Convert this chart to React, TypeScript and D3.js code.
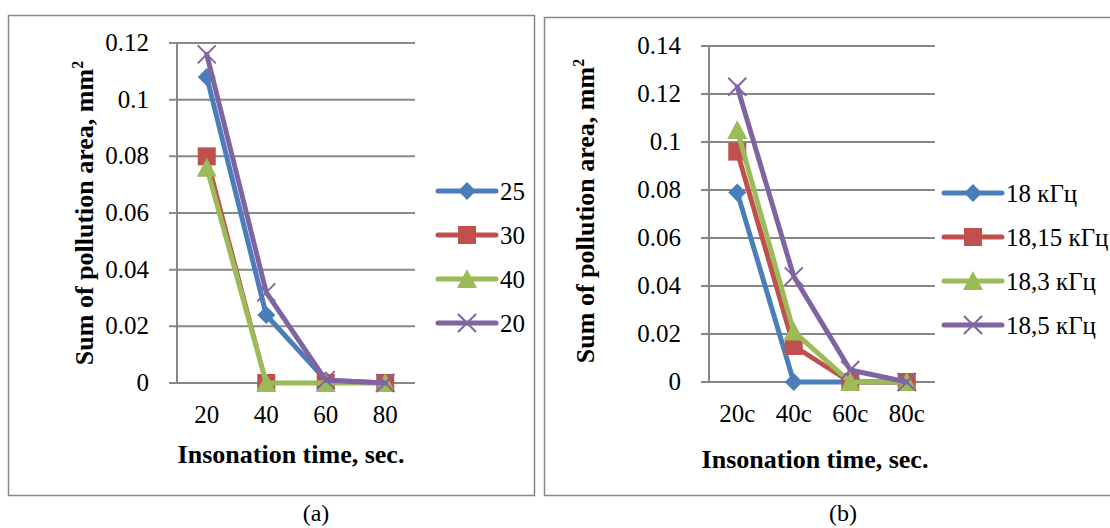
import { useEffect, useRef } from 'react';
import * as d3 from 'd3';

// Panel (a): insonation time vs pollution area, series by parameter
const categoriesA = ['20', '40', '60', '80'];
const seriesNamesA = ['25', '30', '40', '20'];
const values25 = [0.108, 0.024, 0.001, 0];
const values30 = [0.08, 0, 0, 0];
const values40 = [0.076, 0, 0, 0];
const values20 = [0.116, 0.032, 0.001, 0];
const yTicksA = [0, 0.02, 0.04, 0.06, 0.08, 0.1, 0.12];

// Panel (b): series by frequency
const categoriesB = ['20c', '40c', '60c', '80c'];
const seriesNamesB = ['18 кГц', '18,15 кГц', '18,3 кГц', '18,5 кГц'];
const values18 = [0.079, 0, 0, 0];
const values1815 = [0.096, 0.015, 0, 0];
const values183 = [0.105, 0.021, 0, 0];
const values185 = [0.123, 0.044, 0.005, 0];
const yTicksB = [0, 0.02, 0.04, 0.06, 0.08, 0.1, 0.12, 0.14];

const colors = ['#4a7ebb', '#c0504d', '#9bbb59', '#8064a2'];
const markers = ['diamond', 'square', 'triangle', 'x'];
const FONT = "'Liberation Serif', 'Times New Roman', serif";
const GRID = '#878787';

function drawMarker(g, type, x, y, color) {
  if (type === 'diamond') {
    g.append('path').attr('d', `M${x},${y - 9}L${x + 9},${y}L${x},${y + 9}L${x - 9},${y}Z`).attr('fill', color);
  } else if (type === 'square') {
    g.append('rect').attr('x', x - 9).attr('y', y - 9).attr('width', 18).attr('height', 18).attr('fill', color);
  } else if (type === 'triangle') {
    g.append('path').attr('d', `M${x},${y - 10}L${x + 10},${y + 9}L${x - 10},${y + 9}Z`).attr('fill', color);
  } else {
    g.append('path')
      .attr('d', `M${x - 9},${y - 9}L${x + 9},${y + 9}M${x - 9},${y + 9}L${x + 9},${y - 9}`)
      .attr('stroke', color).attr('stroke-width', 2).attr('fill', 'none');
  }
}

function drawPanel(svg, cfg) {
  const g = svg.append('g');

  // outer frame
  g.append('rect')
    .attr('x', cfg.frame[0]).attr('y', cfg.frame[1])
    .attr('width', cfg.frame[2]).attr('height', cfg.frame[3])
    .attr('fill', 'none').attr('stroke', GRID).attr('stroke-width', 1.5);

  const x = d3.scaleBand().domain(cfg.categories).range([cfg.left, cfg.right]);
  const y = d3.scaleLinear().domain([0, cfg.yMax]).range([cfg.bottom, cfg.top]);

  // gridlines + tick labels
  cfg.yTicks.forEach((t) => {
    g.append('line')
      .attr('x1', cfg.left - 8).attr('x2', cfg.right)
      .attr('y1', y(t)).attr('y2', y(t))
      .attr('stroke', GRID).attr('stroke-width', 2);
    g.append('text')
      .attr('x', cfg.left - 28).attr('y', y(t) + 8)
      .attr('text-anchor', 'end')
      .attr('font-family', FONT).attr('font-size', 25)
      .text(d3.format('~g')(t));
  });

  // y axis line
  g.append('line')
    .attr('x1', cfg.left).attr('x2', cfg.left)
    .attr('y1', cfg.top).attr('y2', cfg.bottom)
    .attr('stroke', GRID).attr('stroke-width', 2);

  cfg.categories.forEach((c) => {
    g.append('text')
      .attr('x', x(c) + x.bandwidth() / 2).attr('y', cfg.bottom + 40)
      .attr('text-anchor', 'middle')
      .attr('font-family', FONT).attr('font-size', 25)
      .text(c);
  });

  // axis titles
  g.append('text')
    .attr('x', cfg.xTitle[0]).attr('y', cfg.xTitle[1])
    .attr('text-anchor', 'middle')
    .attr('font-family', FONT).attr('font-size', 26).attr('font-weight', 'bold')
    .text('Insonation time, sec.');

  const yt = g.append('text')
    .attr('transform', `translate(${cfg.yTitle[0]},${cfg.yTitle[1]}) rotate(-90)`)
    .attr('text-anchor', 'middle')
    .attr('font-family', FONT).attr('font-size', 26).attr('font-weight', 'bold');
  yt.append('tspan').text('Sum of pollution area, mm');
  yt.append('tspan').attr('font-size', 16).attr('dy', -10).text('2');

  // series
  const line = d3.line()
    .x((d, i) => x(cfg.categories[i]) + x.bandwidth() / 2)
    .y((d) => y(d));

  cfg.series.forEach((vals, si) => {
    const sg = g.append('g');
    sg.append('path')
      .attr('d', line(vals))
      .attr('fill', 'none')
      .attr('stroke', colors[si])
      .attr('stroke-width', cfg.lineWidths[si])
      .attr('stroke-linejoin', 'round')
      .attr('stroke-linecap', 'round');
    vals.forEach((v, i) => {
      drawMarker(sg, markers[si], x(cfg.categories[i]) + x.bandwidth() / 2, y(v), colors[si]);
    });
  });

  // legend
  cfg.names.forEach((name, i) => {
    const ly = cfg.legendY + i * 44;
    const lg = g.append('g');
    lg.append('line')
      .attr('x1', cfg.legendX).attr('x2', cfg.legendX + 58)
      .attr('y1', ly).attr('y2', ly)
      .attr('stroke', colors[i]).attr('stroke-width', 5).attr('stroke-linecap', 'round');
    drawMarker(lg, markers[i], cfg.legendX + 29, ly, colors[i]);
    lg.append('text')
      .attr('x', cfg.legendX + 62).attr('y', ly + 9)
      .attr('font-family', FONT).attr('font-size', 25)
      .text(name);
  });

  // caption
  g.append('text')
    .attr('x', cfg.caption[0]).attr('y', cfg.caption[1])
    .attr('text-anchor', 'middle')
    .attr('font-family', FONT).attr('font-size', 24)
    .text(cfg.captionText);
}

export default function App() {
  const svgRef = useRef(null);

  useEffect(() => {
    if (!svgRef.current) return;
    const svg = d3.select(svgRef.current);
    svg.selectAll('*').remove();

    drawPanel(svg, {
      frame: [8.5, 15.5, 526, 480],
      categories: categoriesA,
      names: seriesNamesA,
      series: [values25, values30, values40, values20],
      lineWidths: [5, 4, 5, 5],
      yTicks: yTicksA,
      yMax: 0.12,
      left: 177, right: 415, top: 43, bottom: 383,
      xTitle: [291, 463],
      yTitle: [93, 213],
      legendX: 438, legendY: 191,
      caption: [316, 521],
      captionText: '(a)',
    });

    drawPanel(svg, {
      frame: [544.5, 17.5, 600, 478],
      categories: categoriesB,
      names: seriesNamesB,
      series: [values18, values1815, values183, values185],
      lineWidths: [5, 5, 5, 5],
      yTicks: yTicksB,
      yMax: 0.14,
      left: 709, right: 935, top: 46, bottom: 382,
      xTitle: [815, 468],
      yTitle: [594, 211],
      legendX: 944, legendY: 193,
      caption: [843, 521],
      captionText: '(b)',
    });
  }, []);

  return (
    <svg
      ref={svgRef}
      width={1110}
      height={528}
      style={{ position: 'absolute', left: 0, top: 0, background: '#fff' }}
    />
  );
}
